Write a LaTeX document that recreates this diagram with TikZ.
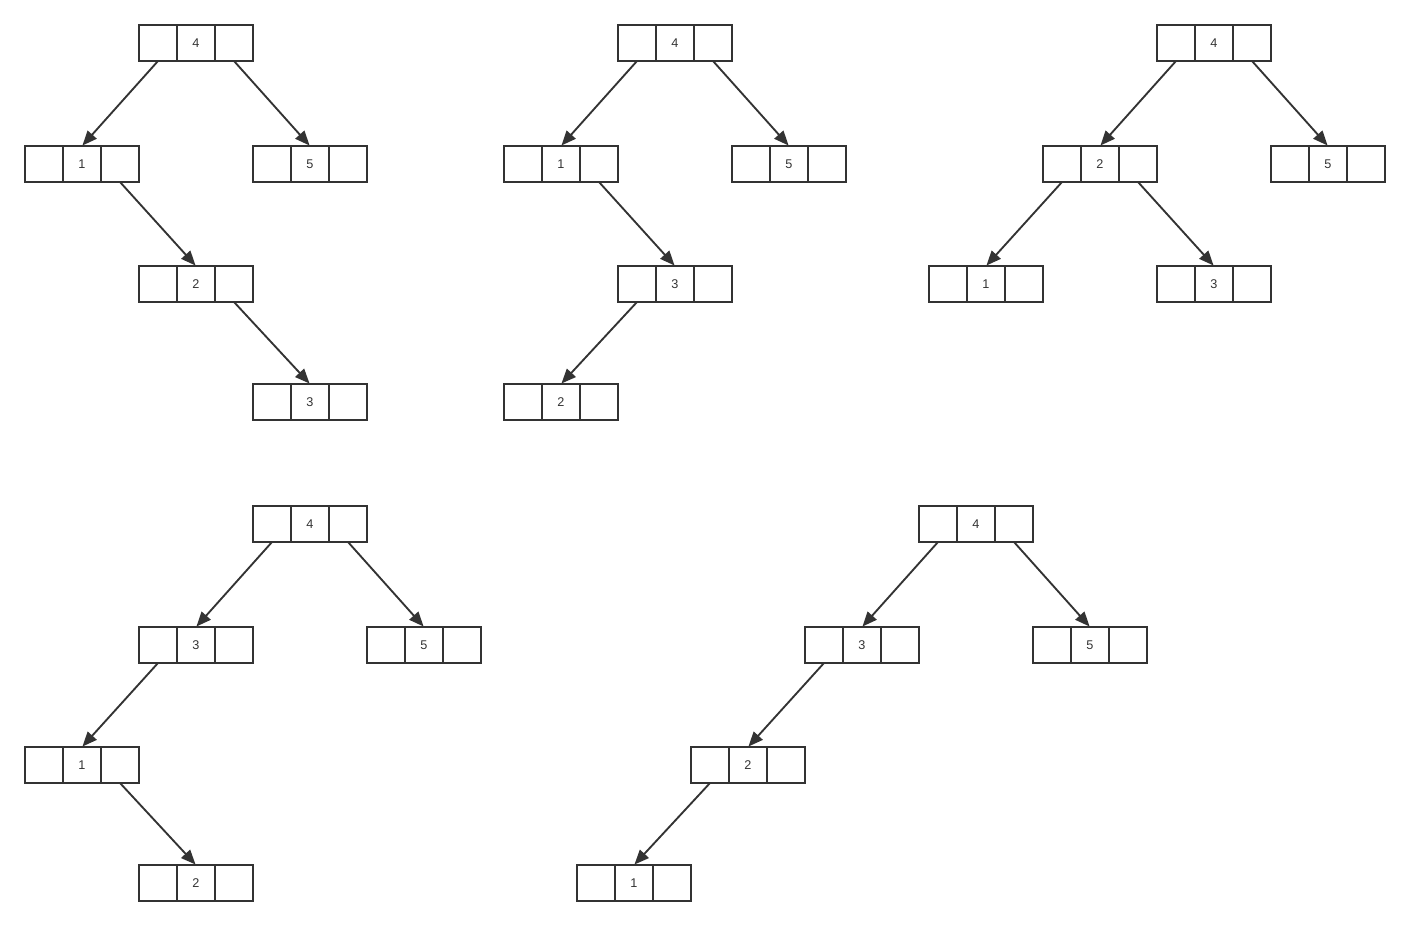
\documentclass[tikz,border=0pt]{standalone}
\usepackage{fontspec}
\setmainfont{Liberation Sans}
\usetikzlibrary{arrows.meta,positioning}

\begin{document}
\begin{tikzpicture}[
        x=0.75pt, y=-0.75pt, % 1 unidad = 1 px de la imagen
        >={Triangle[length=11pt,width=9pt]}
    ]

        % --- ESTILOS ---
        \definecolor{linegray}{RGB}{51, 51, 51}
        \tikzset{
            cell/.style={draw=linegray, line width=1.4pt, inner sep=0pt, outer sep=0pt,
                minimum width=28.5pt, minimum height=27pt, text=linegray,
                font=\fontsize{9.5}{11}\selectfont},
            arr/.style={->, draw=linegray, line width=1.4pt, shorten >=0.5pt}
        }

        \useasboundingbox (0,0) rectangle (1410,926);

        % --- NODOS (celda central con valor, celdas izquierda y derecha vacias) ---
        \foreach \n/\x/\y/\v in {
            a4/196/43/4, a1/82/164/1, a5/310/164/5, a2/196/284/2, a3/310/402/3,
            b4/675/43/4, b1/561/164/1, b5/789/164/5, b3/675/284/3, b2/561/402/2,
            c4/1214/43/4, c2/1100/164/2, c5/1328/164/5, c1/986/284/1, c3/1214/284/3,
            d4/310/524/4, d3/196/645/3, d5/424/645/5, d1/82/765/1, d2/196/883/2,
            e4/976/524/4, e3/862/645/3, e5/1090/645/5, e2/748/765/2, e1/634/883/1}
        {
            \node[cell] (\n) at (\x,\y) {\v};
            \node[cell, left=0pt of \n] (\n-l) {};
            \node[cell, right=0pt of \n] (\n-r) {};
        }

        % --- ENLACES ---
        \foreach \a/\b in {
            a4-l/a1, a4-r/a5, a1-r/a2, a2-r/a3,
            b4-l/b1, b4-r/b5, b1-r/b3, b3-l/b2,
            c4-l/c2, c4-r/c5, c2-l/c1, c2-r/c3,
            d4-l/d3, d4-r/d5, d3-l/d1, d1-r/d2,
            e4-l/e3, e4-r/e5, e3-l/e2, e2-l/e1}
            \draw[arr] (\a.south) -- (\b.north);

    \end{tikzpicture}
\end{document}
